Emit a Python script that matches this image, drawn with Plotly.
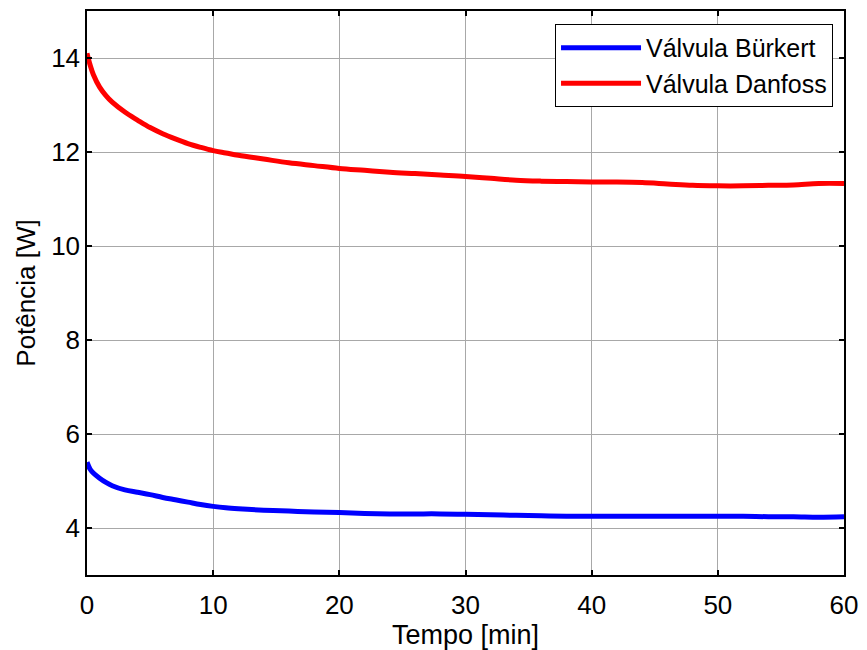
import plotly.graph_objects as go

# Time (minutes)
tempo = [0, 0.25, 0.5, 1, 1.5, 2, 3, 4, 5, 6, 7, 8, 9, 10, 11, 12, 14, 16, 18, 20,
         22, 24, 26, 28, 30, 32, 34, 36, 38, 40, 42, 44, 46, 48, 50, 52, 54,
         56, 58, 60]

# Power [W] - Válvula Bürkert
burkert = [5.40, 5.25, 5.17, 5.06, 4.97, 4.90, 4.81, 4.76, 4.71, 4.65, 4.60,
           4.55, 4.50, 4.46, 4.43, 4.41, 4.38, 4.36, 4.34, 4.33, 4.31, 4.30, 4.30,
           4.30, 4.29, 4.28, 4.27, 4.26, 4.25, 4.25, 4.25, 4.25, 4.25, 4.25,
           4.25, 4.25, 4.24, 4.24, 4.23, 4.24]

# Power [W] - Válvula Danfoss
danfoss = [14.10, 13.85, 13.65, 13.38, 13.20, 13.06, 12.85, 12.68, 12.52,
           12.39, 12.28, 12.18, 12.10, 12.03, 11.98, 11.93, 11.85, 11.77, 11.71,
           11.65, 11.61, 11.57, 11.54, 11.51, 11.48, 11.44, 11.40, 11.38,
           11.37, 11.36, 11.36, 11.35, 11.32, 11.29, 11.28, 11.28, 11.29,
           11.30, 11.33, 11.33]

x_ticks = [0, 10, 20, 30, 40, 50, 60]
y_ticks = [4, 6, 8, 10, 12, 14]

FONT = "Arial, 'Liberation Sans', sans-serif"

fig = go.Figure()
fig.add_trace(go.Scatter(x=tempo, y=burkert, mode="lines", name="Válvula Bürkert",
                         line=dict(color="#0000FF", width=5), line_shape="spline"))
fig.add_trace(go.Scatter(x=tempo, y=danfoss, mode="lines", name="Válvula Danfoss",
                         line=dict(color="#FF0000", width=5), line_shape="spline"))

axis_common = dict(
    showline=True, linecolor="black", linewidth=1.5, mirror="ticks",
    ticks="inside", ticklen=5, tickcolor="black", tickwidth=1.5,
    showgrid=True, gridcolor="#a8a8a8", gridwidth=1,
    zeroline=False,
    tickfont=dict(family=FONT, size=26, color="black"),
)

fig.update_layout(
    width=867, height=650,
    margin=dict(l=87, r=19, t=9, b=74),
    paper_bgcolor="white", plot_bgcolor="white",
    font=dict(family=FONT, color="black"),
    xaxis=dict(range=[0, 60], tickvals=x_ticks, ticklabelstandoff=6,
               title=dict(text="Tempo [min]", font=dict(family=FONT, size=27), standoff=2),
               **axis_common),
    yaxis=dict(range=[3, 15], tickvals=y_ticks, ticklabelstandoff=0,
               title=dict(text="Potência [W]", font=dict(family=FONT, size=26), standoff=8),
               **axis_common),
    legend=dict(x=0.9855, y=0.977, xanchor="right", yanchor="top",
                bgcolor="white", bordercolor="black", borderwidth=1,
                font=dict(family=FONT, size=25, color="black"),
                tracegroupgap=0, itemwidth=80),
    showlegend=True,
)

fig.write_html("out.html")
